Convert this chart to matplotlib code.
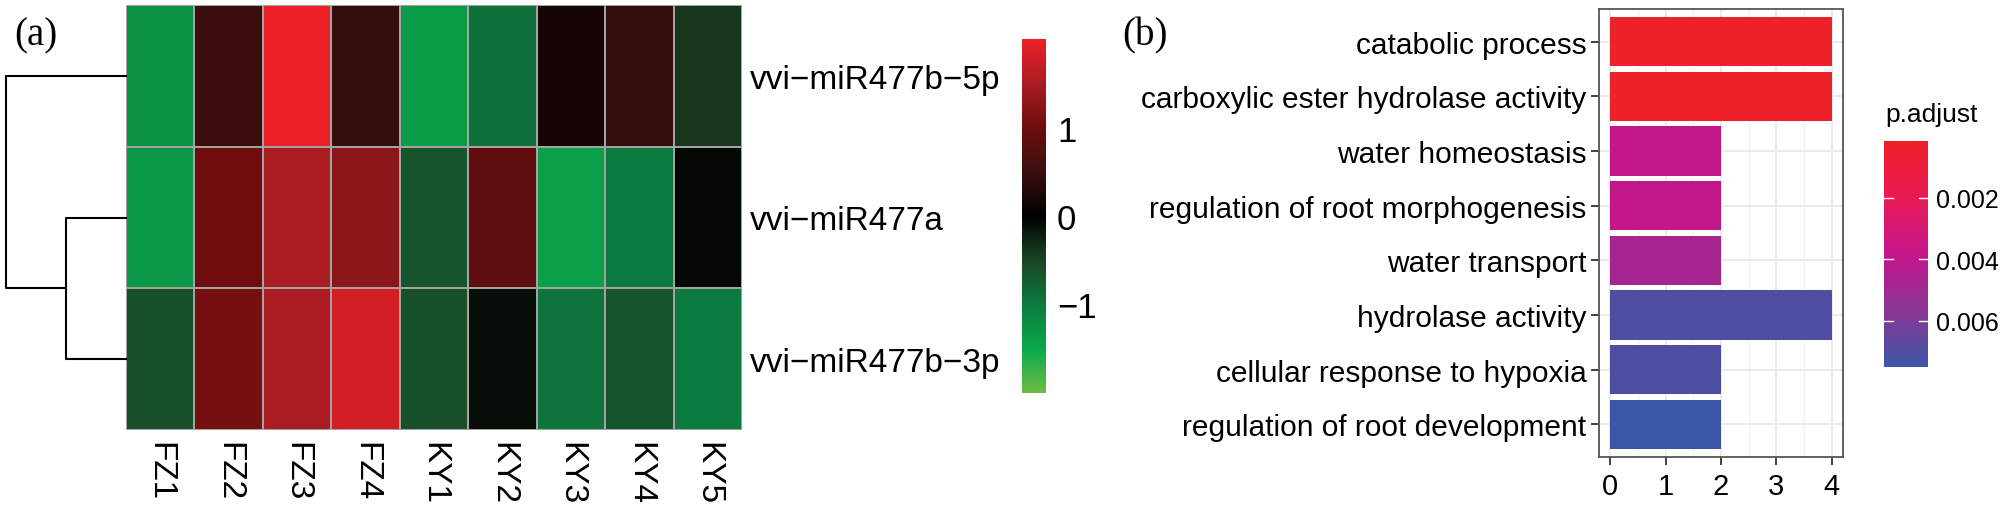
import numpy as np
import matplotlib
matplotlib.use("Agg")
import matplotlib.pyplot as plt
from matplotlib.colors import LinearSegmentedColormap, Normalize

plt.rcParams['font.family'] = ['Liberation Sans', 'DejaVu Sans']

# ---- data: heatmap (a) ----
samples = ['FZ1', 'FZ2', 'FZ3', 'FZ4', 'KY1', 'KY2', 'KY3', 'KY4', 'KY5']
mirnas = ['vvi\u2212miR477b\u22125p', 'vvi\u2212miR477a', 'vvi\u2212miR477b\u22123p']
expr_5p = [-1.25, 0.5, 2.0, 0.45, -1.35, -0.9, 0.2, 0.45, -0.4]
expr_a = [-1.3, 1.0, 1.5, 1.25, -0.65, 0.85, -1.4, -1.0, -0.05]
expr_3p = [-0.6, 1.05, 1.5, 1.8, -0.6, -0.1, -0.95, -0.65, -1.0]
# dendrogram merge heights: (a,3p) then (5p,(a,3p))
merge_h = [2.1, 4.2]

# ---- data: GO bar chart (b) ----
terms = ['catabolic process', 'carboxylic ester hydrolase activity', 'water homeostasis',
         'regulation of root morphogenesis', 'water transport', 'hydrolase activity',
         'cellular response to hypoxia', 'regulation of root development']
counts = [4, 4, 2, 2, 2, 4, 2, 2]
padj = [0.0002, 0.0002, 0.0039, 0.0039, 0.0048, 0.0070, 0.0070, 0.0075]

heat_cmap = LinearSegmentedColormap.from_list('gbr', [
    (0.0, '#6abd45'), (0.125, '#0aa84b'), (0.25, '#0b7a3e'), (0.375, '#1b4524'),
    (0.5, '#000000'), (0.625, '#3a0e0e'), (0.75, '#6e0d0e'), (0.875, '#a81c22'),
    (1.0, '#ee2027')])
p_cmap = LinearSegmentedColormap.from_list('rb', [
    (0.0, '#ee2027'), (0.25, '#e91a55'), (0.5, '#c5158b'), (0.75, '#8a3593'), (1.0, '#3b57a7')])

fig = plt.figure(figsize=(20, 5.1), dpi=100)

def px(x0, y0, x1, y1):
    # pixel box -> figure fraction rect
    return [x0 / 2000, (510 - y1) / 510, (x1 - x0) / 2000, (y1 - y0) / 510]

# heatmap
Z = np.array([expr_5p, expr_a, expr_3p])
ax = fig.add_axes(px(126, 6, 742, 431))
mesh = ax.pcolormesh(Z, cmap=heat_cmap, vmin=-2, vmax=2, edgecolors='#a3a3a3', linewidth=1.3)
ax.set_xlim(0, len(samples))
ax.set_ylim(len(mirnas), 0)
ax.set_xticks(np.arange(len(samples)) + 0.5)
ax.set_xticklabels(samples, rotation=-90, fontsize=24, va='top')
ax.set_yticks(np.arange(len(mirnas)) + 0.5)
ax.set_yticklabels(mirnas, fontsize=24)
ax.yaxis.tick_right()
ax.tick_params(axis='both', length=0)
ax.tick_params(axis='x', pad=8)
ax.tick_params(axis='y', pad=6)
for s in ax.spines.values():
    s.set_visible(False)

# dendrogram
dax = fig.add_axes(px(6, 6, 126, 431))
y23 = (1.5 + 2.5) / 2
dax.plot([0, merge_h[0], merge_h[0], 0], [1.5, 1.5, 2.5, 2.5], color='black', lw=1.5, clip_on=False)
dax.plot([0, merge_h[1], merge_h[1], merge_h[0]], [0.5, 0.5, y23, y23], color='black', lw=1.5, clip_on=False)
dax.set_xlim(merge_h[1], 0)
dax.set_ylim(3, 0)
dax.axis('off')

# heatmap colorbar
cax = fig.add_axes(px(1022, 40, 1046, 394))
cb = fig.colorbar(mesh, cax=cax, ticks=[-1, 0, 1])
cb.outline.set_visible(False)
cb.ax.set_yticklabels(['\u22121', '0', '1'])
cb.ax.tick_params(length=0, labelsize=25, pad=8)

# bar chart
bax = fig.add_axes(px(1599, 10, 1843, 458))
ypos = np.arange(len(terms))
norm = Normalize(vmin=0.00016, vmax=0.0075)
bax.barh(ypos, counts, height=0.9, color=p_cmap(norm(np.array(padj))), zorder=3)
bax.set_yticks(ypos)
bax.set_yticklabels(terms, fontsize=21.5)
bax.set_ylim(len(terms) - 0.4, -0.6)
bax.set_xlim(-0.2, 4.2)
bax.set_xticks([0, 1, 2, 3, 4])
bax.set_xticks([0.5, 1.5, 2.5, 3.5], minor=True)
bax.tick_params(axis='x', labelsize=21, length=6, width=1.3, color='#333333', pad=5)
bax.tick_params(axis='x', which='minor', length=0)
bax.tick_params(axis='y', length=6, width=1.3, color='#333333', pad=3)
bax.grid(True, which='major', color='#ebebeb', lw=1.4, zorder=0)
bax.grid(True, which='minor', axis='x', color='#f2f2f2', lw=0.9, zorder=0)
bax.set_axisbelow(True)
for s in bax.spines.values():
    s.set_color('#555555')
    s.set_linewidth(1.3)

# p.adjust colorbar
pcax = fig.add_axes(px(1884, 142, 1928, 368))
sm = plt.cm.ScalarMappable(norm=norm, cmap=p_cmap)
pcb = fig.colorbar(sm, cax=pcax, ticks=[0.002, 0.004, 0.006])
pcb.outline.set_visible(False)
pcb.ax.set_yticklabels(['0.002', '0.004', '0.006'])
pcb.ax.tick_params(length=0, labelsize=18, pad=6)
pcax.invert_yaxis()
for t in [0.002, 0.004, 0.006]:
    pcax.plot([0, 0.2], [t, t], color='white', lw=1, transform=pcax.get_yaxis_transform())
    pcax.plot([0.8, 1], [t, t], color='white', lw=1, transform=pcax.get_yaxis_transform())
fig.text(1885 / 2000, 1 - 115 / 510, 'p.adjust', fontsize=19, ha='left', va='center')

# panel labels
fig.text(14 / 2000, 1 - 36 / 510, '(a)', fontsize=28, family=['Liberation Serif', 'DejaVu Serif'],
         ha='left', va='center')
fig.text(1122 / 2000, 1 - 36 / 510, '(b)', fontsize=28, family=['Liberation Serif', 'DejaVu Serif'],
         ha='left', va='center')

fig.savefig('out.png', dpi=100)
